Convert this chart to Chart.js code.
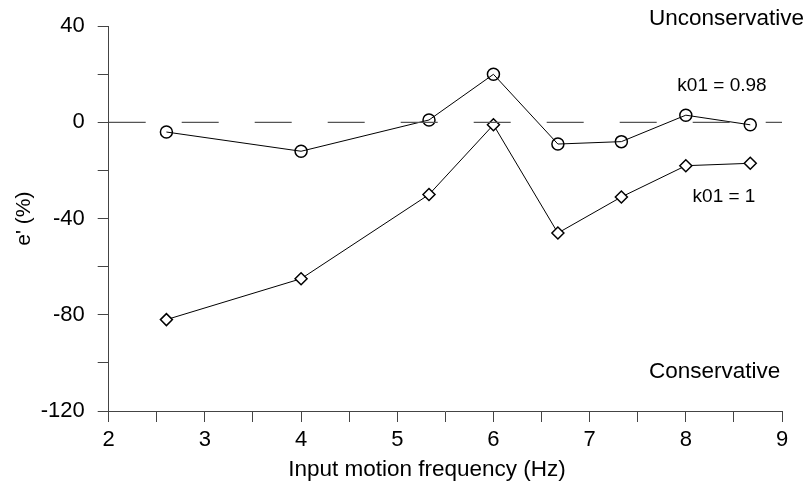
<!DOCTYPE html>
<html>
<head>
<meta charset="utf-8">
<script src="https://cdn.jsdelivr.net/npm/chart.js@4/dist/chart.umd.min.js"></script>
<style>
  html, body { margin: 0; padding: 0; background: #fff; }
  #wrap { width: 810px; height: 488px; }
</style>
</head>
<body>
<div id="wrap"><canvas id="freqChart" width="810" height="488"></canvas></div>
<script>
// data
const freq = [2.6, 4, 5.33, 6, 6.67, 7.33, 8, 8.67];
const errK098 = [-4, -12, 1, 20, -9, -8, 3, -1];
const errK1 = [-82, -65, -30, -1, -46, -31, -18, -17];
const zeroX = [2, 9];
const zeroY = [0, 0];
const xTickLabels = [2, 3, 4, 5, 6, 7, 8, 9];
const yTickLabels = [40, 0, -40, -80, -120];

const FONT = "'Liberation Sans', Arial, Helvetica, sans-serif";
const AXIS = "#444";

function pts(xs, ys) {
  return xs.map((x, i) => ({ x: x, y: ys[i] }));
}

// free text: region labels, curve labels and the x title
const notes = {
  id: "notes",
  afterDraw(chart) {
    const ctx = chart.ctx;
    ctx.save();
    ctx.fillStyle = "#000";
    ctx.textBaseline = "middle";
    ctx.textAlign = "left";
    ctx.font = "22.5px " + FONT;
    ctx.fillText("Unconservative", 649, 19);
    ctx.fillText("Conservative", 649, 372);
    ctx.textAlign = "center";
    ctx.font = "19px " + FONT;
    ctx.fillText("k01 = 0.98", 722, 86);
    ctx.fillText("k01 = 1", 724, 197);
    ctx.font = "22.5px " + FONT;
    ctx.fillText("Input motion frequency (Hz)", 427, 470);
    ctx.restore();
  }
};

const ctx = document.getElementById("freqChart").getContext("2d");

new Chart(ctx, {
  type: "line",
  data: {
    datasets: [
      {
        label: "zero",
        data: pts(zeroX, zeroY),
        borderColor: "#555",
        borderWidth: 1.2,
        borderDash: [37, 36],
        pointRadius: 0,
        fill: false
      },
      {
        label: "k01 = 0.98",
        data: pts(freq, errK098),
        borderColor: "#000",
        borderWidth: 1,
        pointStyle: "circle",
        pointRadius: 6,
        pointBorderWidth: 1.5,
        pointBorderColor: "#000",
        pointBackgroundColor: "rgba(0,0,0,0)",
        tension: 0,
        fill: false
      },
      {
        label: "k01 = 1",
        data: pts(freq, errK1),
        borderColor: "#000",
        borderWidth: 1,
        pointStyle: "rectRot",
        pointRadius: 6,
        pointBorderWidth: 1.5,
        pointBorderColor: "#000",
        pointBackgroundColor: "#fff",
        tension: 0,
        fill: false
      }
    ]
  },
  options: {
    responsive: false,
    animation: false,
    layout: { padding: { left: 0, right: 28, top: 25, bottom: 0 } },
    plugins: {
      legend: { display: false },
      tooltip: { enabled: false }
    },
    scales: {
      x: {
        type: "linear",
        min: 2,
        max: 9,
        afterFit(scale) { scale.height = 77; },
        ticks: {
          stepSize: 0.5,
          autoSkip: false,
          maxRotation: 0,
          padding: 5,
          color: "#000",
          font: { family: FONT, size: 22 },
          callback: v => xTickLabels.includes(v) ? String(v) : ""
        },
        grid: {
          drawOnChartArea: false,
          drawTicks: true,
          tickLength: 11,
          color: AXIS,
          lineWidth: 1
        },
        border: { display: true, color: AXIS, width: 1 }
      },
      y: {
        min: -120,
        max: 40,
        afterFit(scale) { scale.width = 108.7; },
        ticks: {
          stepSize: 20,
          autoSkip: false,
          padding: 13,
          color: "#000",
          font: { family: FONT, size: 22 },
          callback: v => yTickLabels.includes(v) ? String(v) : ""
        },
        grid: {
          drawOnChartArea: false,
          drawTicks: true,
          tickLength: 11,
          color: AXIS,
          lineWidth: 1
        },
        border: { display: true, color: AXIS, width: 1 },
        title: {
          display: true,
          text: "e' (%)",
          color: "#000",
          font: { family: FONT, size: 21 },
          padding: { top: 12, bottom: 0 }
        }
      }
    }
  },
  plugins: [notes]
});
</script>
</body>
</html>
